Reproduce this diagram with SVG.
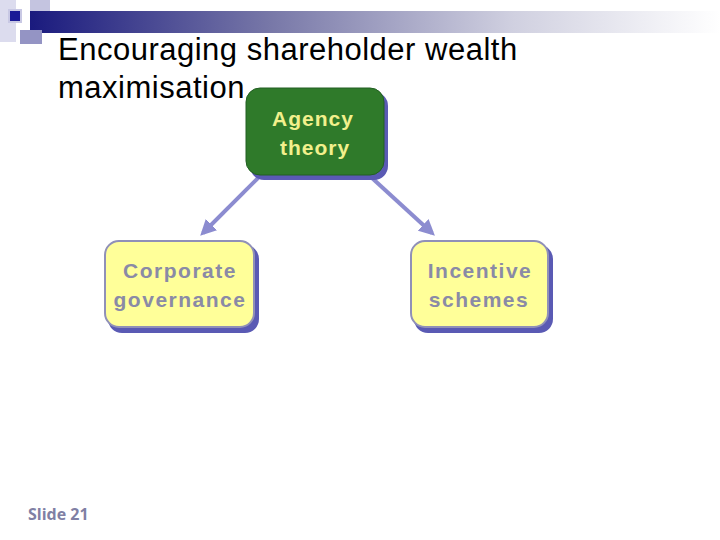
<svg xmlns="http://www.w3.org/2000/svg" width="720" height="540" viewBox="0 0 720 540">
<defs>
<linearGradient id="bar" x1="0" y1="0" x2="1" y2="0">
<stop offset="0" stop-color="#1a1a7e"/>
<stop offset="0.35" stop-color="#7878a8"/>
<stop offset="0.7" stop-color="#d0d0e0"/>
<stop offset="1" stop-color="#ffffff"/>
</linearGradient>
<marker id="ah" markerWidth="4" markerHeight="4" refX="3" refY="2" orient="auto" markerUnits="strokeWidth">
<path d="M0,0 L4,2 L0,4 z" fill="#8c8cd0"/>
</marker>
<style>
.shadow{fill:#5a5ab4}
.green{fill:#2f7a2a;stroke:#225f22;stroke-width:1}
.yellow{fill:#ffff99;stroke:#9090b8;stroke-width:2}
.tg{font-family:"Liberation Sans",Arial,sans-serif;font-size:21px;font-weight:bold;letter-spacing:1px;fill:#f2f08c;text-anchor:middle}
.ty{font-family:"Liberation Sans",Arial,sans-serif;font-size:21px;font-weight:bold;letter-spacing:1.5px;fill:#8a8aa6;text-anchor:middle}
.title{font-family:"Liberation Sans",Arial,sans-serif;font-size:31px;letter-spacing:0.5px;fill:#000}
.conn{stroke:#8c8cd0;stroke-width:4;fill:none}
</style>
</defs>
<rect width="720" height="540" fill="#ffffff"/>
<g id="decor">
<rect x="0" y="0" width="16" height="42" fill="#dcdcee"/>
<rect x="30" y="0" width="20" height="14" fill="#c4c4e0"/>
<rect x="30" y="11" width="690" height="22" fill="url(#bar)"/>
<rect x="8" y="9" width="14" height="14" fill="#c8c8e4"/>
<rect x="10" y="11" width="10" height="10" fill="#1a1a96"/>
<rect x="20" y="30" width="22" height="14" fill="#9494c4"/>
</g>
<g id="title">
<text class="title" x="58" y="60">Encouraging shareholder wealth</text>
<text class="title" x="58" y="98">maximisation</text>
</g>
<g id="connectors">
<line class="conn" x1="258" y1="178" x2="203" y2="233" marker-end="url(#ah)"/>
<line class="conn" x1="372" y1="178" x2="432" y2="233" marker-end="url(#ah)"/>
</g>
<g id="agency">
<rect class="shadow" x="250" y="92" width="138" height="88" rx="14"/>
<rect class="green" x="246" y="88" width="138" height="87" rx="14"/>
<text class="tg" x="313" y="126">Agency</text>
<text class="tg" x="315" y="155">theory</text>
</g>
<g id="corporate">
<rect class="shadow" x="108" y="245" width="151" height="88" rx="14"/>
<rect class="yellow" x="105" y="241" width="149" height="86" rx="14"/>
<text class="ty" x="180" y="278">Corporate</text>
<text class="ty" x="180" y="307">governance</text>
</g>
<g id="incentive">
<rect class="shadow" x="414" y="245" width="139" height="88" rx="14"/>
<rect class="yellow" x="411" y="241" width="137" height="86" rx="14"/>
<text class="ty" x="480" y="278">Incentive</text>
<text class="ty" x="479" y="307">schemes</text>
</g>
<g id="footer">
<text x="28" y="520" font-family="'Open Sans',sans-serif" font-weight="700" font-size="16" fill="#8080a4">Slide 21</text>
</g>
</svg>
